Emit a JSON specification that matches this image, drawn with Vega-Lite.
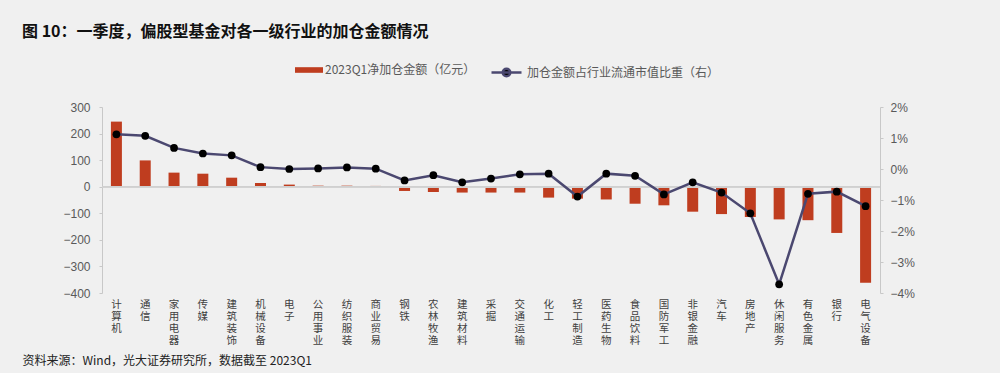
{
  "$schema": "https://vega.github.io/schema/vega-lite/v6.json",
  "width": 778,
  "height": 186,
  "autosize": {"type": "none"},
  "padding": {"left": 102, "top": 107, "right": 120, "bottom": 80},
  "background": "#f0f0f0",
  "title": {
    "text": "图 10：一季度，偏股型基金对各一级行业的加仓金额情况",
    "anchor": "start",
    "frame": "group",
    "dx": -80,
    "dy": -6,
    "font": "Noto Sans CJK SC",
    "fontSize": 16,
    "fontWeight": "bold",
    "color": "#111111",
    "orient": "top",
    "offset": 10
  },
  "config": {
    "view": {"stroke": null},
    "font": "Noto Sans CJK SC"
  },
  "data": {
    "values": [
      {"industry": "计算机", "amount": 245, "ratio": 0.0112},
      {"industry": "通信", "amount": 99, "ratio": 0.0107},
      {"industry": "家用电器", "amount": 53, "ratio": 0.0068},
      {"industry": "传媒", "amount": 49, "ratio": 0.0050},
      {"industry": "建筑装饰", "amount": 34, "ratio": 0.0044},
      {"industry": "机械设备", "amount": 14, "ratio": 0.0006},
      {"industry": "电子", "amount": 8, "ratio": 0.0000},
      {"industry": "公用事业", "amount": 4, "ratio": 0.0002},
      {"industry": "纺织服装", "amount": 4, "ratio": 0.0005},
      {"industry": "商业贸易", "amount": 3, "ratio": 0.0001},
      {"industry": "钢铁", "amount": -16, "ratio": -0.0037},
      {"industry": "农林牧渔", "amount": -20, "ratio": -0.0020},
      {"industry": "建筑材料", "amount": -22, "ratio": -0.0043},
      {"industry": "采掘", "amount": -22, "ratio": -0.0031},
      {"industry": "交通运输", "amount": -22, "ratio": -0.0017},
      {"industry": "化工", "amount": -41, "ratio": -0.0015},
      {"industry": "轻工制造", "amount": -45, "ratio": -0.0089},
      {"industry": "医药生物", "amount": -48, "ratio": -0.0015},
      {"industry": "食品饮料", "amount": -64, "ratio": -0.0022},
      {"industry": "国防军工", "amount": -70, "ratio": -0.0082},
      {"industry": "非银金融", "amount": -94, "ratio": -0.0043},
      {"industry": "汽车", "amount": -103, "ratio": -0.0076},
      {"industry": "房地产", "amount": -114, "ratio": -0.0143},
      {"industry": "休闲服务", "amount": -123, "ratio": -0.0372},
      {"industry": "有色金属", "amount": -126, "ratio": -0.0080},
      {"industry": "银行", "amount": -174, "ratio": -0.0073},
      {"industry": "电气设备", "amount": -361, "ratio": -0.0120}
    ]
  },
  "encoding": {
    "x": {
      "field": "industry",
      "type": "nominal",
      "sort": null,
      "scale": {"paddingInner": 0, "paddingOuter": 0},
      "axis": {
        "orient": "bottom",
        "title": "资料来源：Wind，光大证券研究所，数据截至 2023Q1",
        "titleAnchor": "start",
        "titleAlign": "left",
        "titleX": -80,
        "titleY": 67,
        "titleBaseline": "middle",
        "titleFont": "Noto Sans CJK SC",
        "titleFontSize": 12,
        "titleFontWeight": "normal",
        "titleColor": "#222222",
        "labelAngle": 0,
        "labelExpr": "split(datum.label, '')",
        "labelFont": "Noto Sans CJK SC",
        "labelFontSize": 10.5,
        "labelLineHeight": 12,
        "labelColor": "#404040",
        "labelBaseline": "top",
        "labelPadding": 6,
        "domain": false,
        "ticks": false
      }
    }
  },
  "layer": [
    {
      "mark": {"type": "bar", "width": 11},
      "encoding": {
        "y": {
          "field": "amount",
          "type": "quantitative",
          "scale": {"domain": [-400, 300], "nice": false},
          "axis": {
            "title": null,
            "values": [-400, -300, -200, -100, 0, 100, 200, 300],
            "grid": false,
            "domainColor": "#c8c8c8",
            "tickColor": "#c8c8c8",
            "tickSize": 3,
            "labelPadding": 9,
            "labelFont": "Liberation Sans",
            "labelFontSize": 12,
            "labelColor": "#595959"
          }
        },
        "fill": {
          "datum": "2023Q1净加仓金额（亿元）",
          "type": "nominal",
          "scale": {"range": ["#bf3d1f"]},
          "legend": {
            "title": null,
            "orient": "none",
            "legendX": 193,
            "legendY": -51,
            "padding": 0,
            "symbolType": "M-1,-0.2H1V0.2H-1Z",
            "symbolSize": 784,
            "symbolStrokeWidth": 0,
            "labelFont": "Noto Sans CJK SC",
            "labelFontSize": 12,
            "labelColor": "#595959",
            "labelOffset": 2,
            "labelLimit": 400
          }
        }
      }
    },
    {
      "mark": {"type": "rule", "color": "#d0d0d0", "strokeWidth": 1},
      "encoding": {
        "x": {"value": 0},
        "x2": {"value": 778},
        "y": {"datum": 0, "type": "quantitative", "scale": {"domain": [-400, 300], "nice": false}, "axis": null}
      }
    },
    {
      "mark": {"type": "line", "strokeWidth": 2.5},
      "encoding": {
        "y": {
          "field": "ratio",
          "type": "quantitative",
          "scale": {"domain": [-0.04, 0.02], "nice": false},
          "axis": {
            "orient": "right",
            "title": null,
            "values": [-0.04, -0.03, -0.02, -0.01, 0, 0.01, 0.02],
            "format": ".0%",
            "grid": false,
            "domainColor": "#c8c8c8",
            "tickColor": "#c8c8c8",
            "tickSize": 3,
            "labelPadding": 7,
            "labelFont": "Liberation Sans",
            "labelFontSize": 12,
            "labelColor": "#595959"
          }
        },
        "stroke": {
          "datum": "加仓金额占行业流通市值比重（右）",
          "type": "nominal",
          "scale": {"range": ["#4b4870"]},
          "legend": {
            "title": null,
            "orient": "none",
            "legendX": 388,
            "legendY": -51,
            "padding": 0,
            "symbolType": "M-1,0H1M-0.25,0A0.25,0.25,0,1,0,0.25,0A0.25,0.25,0,1,0,-0.25,0Z",
            "symbolSize": 900,
            "symbolStrokeWidth": 2.5,
            "symbolFillColor": "#000000",
            "labelFont": "Noto Sans CJK SC",
            "labelFontSize": 12,
            "labelColor": "#595959",
            "labelOffset": 4,
            "labelLimit": 400
          }
        }
      }
    },
    {
      "mark": {"type": "point", "filled": true, "fill": "#000000", "size": 60, "opacity": 1},
      "encoding": {
        "y": {"field": "ratio", "type": "quantitative", "scale": {"domain": [-0.04, 0.02], "nice": false}, "axis": null}
      }
    }
  ],
  "resolve": {"scale": {"y": "independent"}}
}
